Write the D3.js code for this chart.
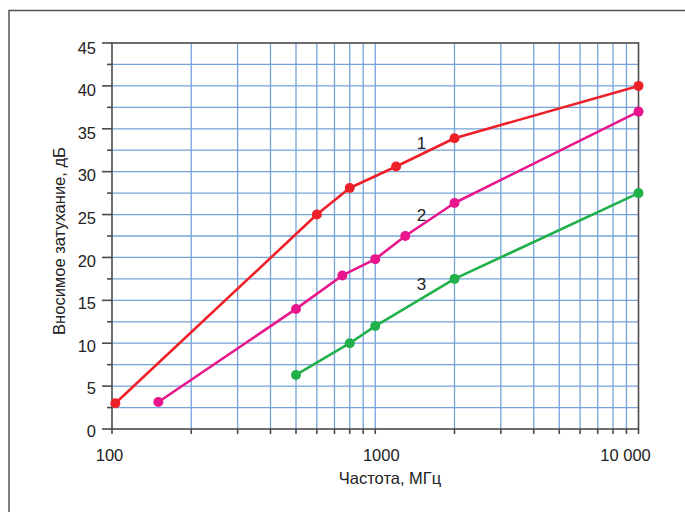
<!DOCTYPE html>
<html><head><meta charset="utf-8">
<script src="https://cdn.jsdelivr.net/npm/d3@7"></script>
<style>
html,body{margin:0;padding:0;background:#fff;}
svg{display:block;font-family:"Liberation Sans",Arial,sans-serif;}
</style></head>
<body>
<svg id="c" width="685" height="512"></svg>
<script>
// ---- data ----
const series1X = [103, 600, 800, 1200, 2000, 10000];
const series1Y = [3.0, 25.0, 28.1, 30.6, 33.9, 40.0];
const series2X = [150, 500, 750, 1000, 1300, 2000, 10000];
const series2Y = [3.15, 14.0, 17.9, 19.8, 22.5, 26.35, 37.0];
const series3X = [500, 800, 1000, 2000, 10000];
const series3Y = [6.3, 10.0, 12.0, 17.5, 27.5];
const seriesNames = ["1", "2", "3"];
const xTickValues = [100, 1000, 10000];
const xTickLabels = ["100", "1000", "10 000"];
const yTickValues = [0, 5, 10, 15, 20, 25, 30, 35, 40, 45];
const yTickLabels = ["0", "5", "10", "15", "20", "25", "30", "35", "40", "45"];
const xTitle = "Частота, МГц";
const yTitle = "Вносимое затухание, дБ";

const svg = d3.select("#c");
const L = 112, R = 638.5, T = 43, B = 429;
const x = d3.scaleLog().domain([100, 10000]).range([L, R]);
const y = d3.scaleLinear().domain([0, 45]).range([B, T]);

// outer border (extends beyond page on right and bottom)
svg.append("rect").attr("x", 9).attr("y", 10.5).attr("width", 700).attr("height", 520)
  .attr("fill", "none").attr("stroke", "#555").attr("stroke-width", 1.5);

const gridColor = "#74a3da";
// vertical grid
const xGrid = [];
[100, 1000].forEach(d => { for (let k = 2; k <= 10; k++) xGrid.push(d * k); });
const xGridInner = xGrid.filter(v => v < 10000);
svg.append("g").selectAll("line").data(xGridInner).join("line")
  .attr("x1", d => x(d)).attr("x2", d => x(d)).attr("y1", T).attr("y2", B)
  .attr("stroke", gridColor).attr("stroke-width", 1.3);
// horizontal grid
const yGrid = d3.range(2.5, 45, 2.5);
svg.append("g").selectAll("line").data(yGrid).join("line")
  .attr("x1", L).attr("x2", R).attr("y1", d => y(d)).attr("y2", d => y(d))
  .attr("stroke", gridColor).attr("stroke-width", 1.3);

// frame
const frame = "#4a4a4a";
svg.append("rect").attr("x", L).attr("y", T).attr("width", R - L).attr("height", B - T)
  .attr("fill", "none").attr("stroke", frame).attr("stroke-width", 1.6);

// y ticks
const yMinor = d3.range(0, 45.01, 2.5);
svg.append("g").selectAll("line").data(yMinor).join("line")
  .attr("x1", d => (d % 5 === 0) ? L - 10 : L - 5).attr("x2", L)
  .attr("y1", d => y(d)).attr("y2", d => y(d))
  .attr("stroke", frame).attr("stroke-width", 1.6);
// x ticks
svg.append("g").selectAll("line").data([100].concat(xGrid)).join("line")
  .attr("x1", d => x(d)).attr("x2", d => x(d)).attr("y1", B).attr("y2", B + 5)
  .attr("stroke", frame).attr("stroke-width", 1.6);

// y tick labels
svg.append("g").selectAll("text").data(yTickValues).join("text")
  .attr("x", 96).attr("y", (d) => y(d) + 2 + d / 45 * 2.5)
  .attr("text-anchor", "end").attr("dominant-baseline", "central")
  .attr("font-size", 16.5).attr("fill", "#222")
  .text((d, i) => yTickLabels[i]);
// x tick labels
const xLabelShift = [-2.5, 6, -13];
svg.append("g").selectAll("text").data(xTickValues).join("text")
  .attr("x", (d, i) => x(d) + xLabelShift[i]).attr("y", 460.5)
  .attr("text-anchor", "middle").attr("font-size", 16.5).attr("fill", "#222")
  .text((d, i) => xTickLabels[i]);

// titles
svg.append("text").attr("x", 390).attr("y", 484).attr("text-anchor", "middle")
  .attr("font-size", 16.5).attr("fill", "#222").text(xTitle);
svg.append("text").attr("transform", "translate(65,241) rotate(-90)")
  .attr("text-anchor", "middle").attr("font-size", 16.5).attr("fill", "#222").text(yTitle);

// series
const colors = ["#ee2029", "#e8158c", "#22b04b"];
const all = [
  series1X.map((v, i) => [v, series1Y[i]]),
  series2X.map((v, i) => [v, series2Y[i]]),
  series3X.map((v, i) => [v, series3Y[i]])
];
const line = d3.line().x(d => x(d[0])).y(d => y(d[1]));
all.forEach((pts, si) => {
  svg.append("path").attr("d", line(pts)).attr("fill", "none")
    .attr("stroke", colors[si]).attr("stroke-width", 2.6).attr("stroke-linejoin", "round");
  svg.append("g").selectAll("circle").data(pts).join("circle")
    .attr("cx", d => x(d[0])).attr("cy", d => y(d[1])).attr("r", 5)
    .attr("fill", colors[si]);
});

// series labels
const labelPos = [[1500, 33.3], [1500, 24.9], [1500, 16.8]];
svg.append("g").selectAll("text").data(seriesNames).join("text")
  .attr("x", (d, i) => x(labelPos[i][0])).attr("y", (d, i) => y(labelPos[i][1]))
  .attr("text-anchor", "middle").attr("dominant-baseline", "central")
  .attr("font-size", 17).attr("fill", "#222").text(d => d);
</script>
</body></html>
